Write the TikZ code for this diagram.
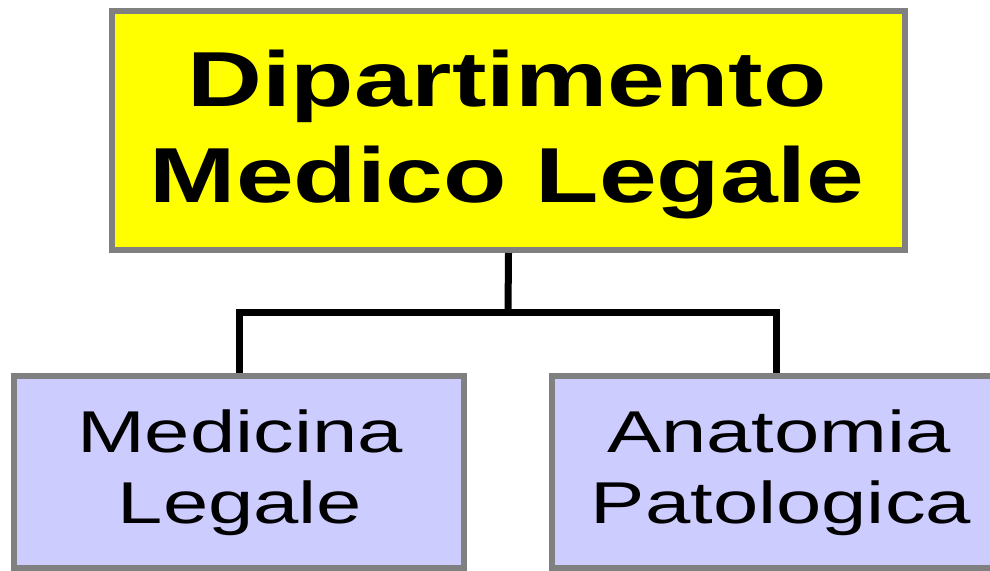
\documentclass[tikz,border=0pt]{standalone}
\usepackage{fontspec}
\newfontfamily\topfont[FakeStretch=1.33]{Liberation Sans}
\newfontfamily\subfont[FakeStretch=1.38]{Liberation Sans}
\definecolor{boxgray}{HTML}{808080}
\definecolor{lav}{HTML}{CCCCFF}
\definecolor{ylw}{HTML}{FFFF00}
\begin{document}
\begin{tikzpicture}[x=1pt,y=-1pt,
  boxbase/.style={draw=boxgray,line width=6pt,inner sep=0pt,rectangle},
  topbox/.style={boxbase,fill=ylw,minimum width=793pt,minimum height=239pt},
  subbox/.style={boxbase,fill=lav,minimum height=192pt},
  toptext/.style={anchor=base,inner sep=0pt,font=\topfont\bfseries\fontsize{78}{96}\selectfont},
  subtext/.style={anchor=base,inner sep=0pt,font=\subfont\fontsize{59}{71}\selectfont},
  conn/.style={draw=black,line width=7pt}]
\useasboundingbox (0,0) rectangle (990,570);
\clip (0,0) rectangle (990,570);
\node[topbox] (top) at (508.5,130.5) {};
\node[subbox,minimum width=450pt] (L) at (239,472) {};
\node[subbox,minimum width=448pt] (R) at (776,472) {};
\node[toptext] (t1) at (507,106) {Dipartimento};
\node[toptext] (t2) at (507,202) {Medico Legale};
\node[subtext] (l1) at (240,452) {Medicina};
\node[subtext] (l2) at (240,523) {Legale};
\node[subtext] (r1) at (779,452) {Anatomia};
\node[subtext] (r2) at (781,523) {Patologica};
\coordinate (j) at (508,312);
\draw[conn] (top.south) -- (j);
\draw[conn] (j) -| (L.north);
\draw[conn] (j) -| (R.north);
\end{tikzpicture}
\end{document}
